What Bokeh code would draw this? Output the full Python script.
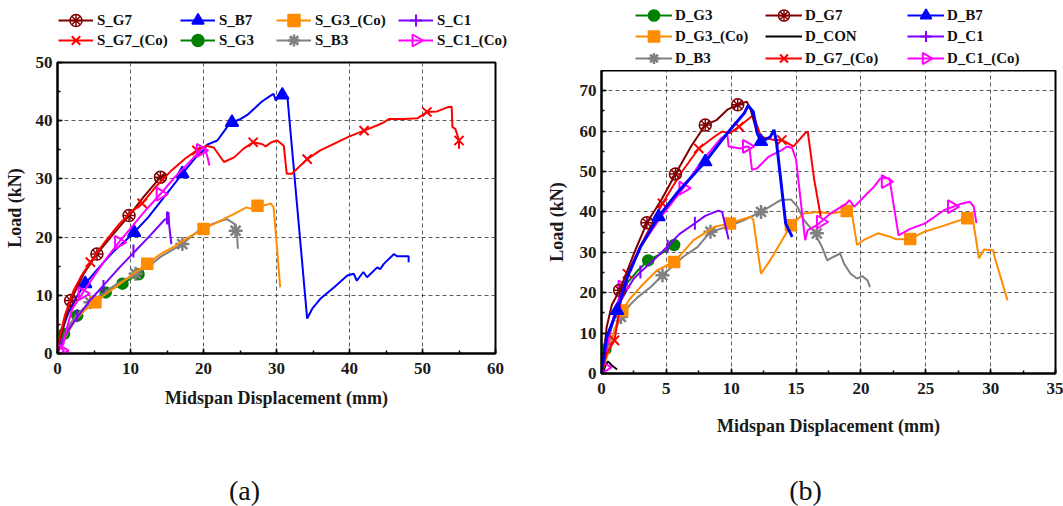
import math
from bokeh.plotting import figure
from bokeh.layouts import row, column
from bokeh.models import Range1d, SingleIntervalTicker, Legend, LegendItem, Label
from bokeh.embed import file_html
from bokeh.resources import INLINE

# ---------------- Panel (a) data : (displacement mm, load kN) ----------------
a_G7 = [(0, 0), (0.2, 1.7), (0.9, 5.1), (1.8, 9.1), (3.6, 13.7), (5.4, 17.1), (7.7, 20.6),
        (9.8, 23.7), (11.8, 26.9), (14.1, 30.3), (15.0, 30.8)]
a_G7_m = [(1.8, 9.1), (5.4, 17.1), (9.8, 23.7), (14.1, 30.3)]

a_G7co = [(0, 0), (0.3, 2.8), (1.0, 6.5), (2.2, 10.8), (3.3, 13.4), (4.5, 15.7), (6.5, 19.2),
          (8.5, 22.3), (10.0, 24.2), (11.6, 25.8), (13.5, 28.7), (15.5, 31.3), (17.5, 33.5),
          (19.1, 34.9), (19.6, 35.2), (20.4, 35.7), (21.4, 35.4), (22.8, 32.9), (24.2, 33.7),
          (25.5, 35.2), (26.8, 36.3), (28.0, 36.0), (28.5, 35.6), (29.3, 36.3), (30.1, 36.6),
          (31.0, 35.7), (31.4, 30.9), (32.1, 30.9), (34.2, 33.4), (36.0, 34.9), (38.0, 36.1),
          (40.0, 37.3), (42.0, 38.3), (44.0, 39.3), (44.7, 39.7), (45.4, 40.3), (47.5, 40.3),
          (49.3, 40.4), (50.6, 41.5), (52.0, 41.6), (53.4, 42.3), (54.0, 42.4), (54.1, 38.9),
          (54.5, 38.6), (55.0, 36.6), (55.0, 35.2)]
a_G7co_m = [(4.5, 15.7), (11.6, 25.8), (19.1, 34.9), (26.8, 36.3), (34.2, 33.4), (42.0, 38.3),
            (50.6, 41.5), (55.0, 36.6)]

a_B7 = [(0, 0), (0.5, 3.5), (1.5, 7.0), (2.5, 9.5), (3.8, 12.0), (5.5, 14.5), (7.5, 17.3),
        (10.5, 20.8), (12.5, 23.5), (15.0, 27.5), (17.1, 30.9), (19.0, 33.8), (20.0, 34.9),
        (20.5, 35.9), (21.9, 36.6), (23.0, 38.5), (23.7, 39.7), (24.5, 40.0), (25.1, 40.3),
        (26.0, 41.0), (26.9, 42.0), (28.0, 43.3), (29.2, 44.3), (29.6, 44.6), (29.9, 43.5),
        (30.4, 44.2), (30.8, 44.6), (31.5, 44.0), (34.2, 6.0), (34.9, 7.7), (36.0, 9.4),
        (37.9, 11.4), (39.7, 13.4), (40.6, 13.7), (41.0, 12.5), (41.9, 14.0), (42.4, 13.1),
        (43.8, 14.8), (44.2, 14.5), (44.7, 15.4), (46.1, 17.1), (46.5, 16.7), (48.1, 16.7),
        (48.1, 15.7)]
a_B7_m = [(3.8, 12.0), (10.5, 20.8), (17.1, 30.9), (23.9, 39.7), (30.8, 44.4)]

a_G3co = [(0, 0), (0.5, 1.5), (1.3, 3.4), (2.5, 5.8), (3.8, 7.5), (5.2, 8.8), (6.8, 10.4),
          (8.6, 12.0), (10.5, 13.8), (12.3, 15.4), (14.0, 17.0), (15.9, 18.3), (18.0, 20.0),
          (20.0, 21.4), (22.0, 22.6), (24.2, 24.0), (25.9, 25.1), (26.4, 24.9), (27.4, 25.4),
          (28.5, 25.5), (29.2, 25.8), (29.6, 25.1), (30.1, 17.7), (30.5, 11.4)]
a_G3co_m = [(5.2, 8.8), (12.3, 15.4), (20.0, 21.4), (27.4, 25.4)]

a_C1 = [(0, 0), (0.8, 2.5), (1.8, 4.6), (2.7, 6.2), (4.5, 9.2), (6.3, 11.7), (8.5, 14.8),
        (10.5, 17.4), (12.7, 20.3), (14.6, 22.9), (15.0, 23.2), (15.2, 24.3), (15.3, 22.0),
        (15.6, 18.8)]
a_C1_m = [(2.7, 6.5), (6.3, 11.5), (10.4, 17.6), (15.0, 23.3)]

a_G3 = [(0, 0), (0.4, 1.8), (0.9, 3.4), (1.8, 5.2), (2.7, 6.5), (4.5, 8.8), (6.6, 10.5),
        (8.9, 12.0), (10.0, 12.8), (11.1, 13.6), (11.8, 14.3)]
a_G3_m = [(0.9, 3.4), (2.7, 6.5), (6.6, 10.5), (8.9, 12.0), (11.1, 13.6)]

a_B3 = [(0, 0), (0.5, 1.8), (1.2, 3.8), (2.5, 6.5), (4.5, 8.8), (6.2, 10.3), (8.2, 12.0),
        (10.7, 13.7), (12.5, 15.0), (14.1, 16.6), (17.1, 18.8), (19.6, 21.4), (21.5, 22.4),
        (23.2, 23.1), (24.2, 22.3), (24.6, 20.8), (24.7, 18.0)]
a_B3_m = [(4.5, 8.8), (10.7, 13.7), (17.1, 18.8), (24.4, 21.1)]

a_C1co = [(0.6, 0.1), (0.9, 0.5), (0.4, 1.0), (0.8, 1.6), (1.2, 4.0), (2.0, 7.6), (3.4, 10.3),
          (5.0, 13.3), (6.5, 16.0), (8.4, 19.1), (10.0, 21.5), (12.0, 24.5), (14.1, 27.4),
          (16.0, 30.2), (18.0, 32.8), (19.6, 34.9), (19.9, 35.5), (20.3, 34.8), (20.6, 33.5),
          (20.8, 32.3)]
a_C1co_m = [(0.5, 0.5), (3.4, 10.3), (8.4, 19.1), (14.1, 27.4), (19.6, 34.9)]

# ---------------- Panel (b) data ----------------
b_G3 = [(0, 0), (0.2, 4.0), (0.5, 8.0), (0.9, 13.0), (1.4, 18.0), (2.0, 22.5), (2.8, 25.5),
        (3.6, 28.0), (4.5, 29.5), (5.0, 30.5), (5.6, 31.8)]
b_G3_m = [(0.3, 6.0), (3.6, 28.0), (5.6, 31.8)]

b_G7 = [(0, 0), (0.4, 11.5), (0.8, 17.0), (1.4, 20.6), (2.0, 25.5), (2.5, 29.7), (3.5, 37.3),
        (4.6, 42.9), (5.7, 49.4), (6.9, 56.2), (8.0, 61.5), (8.9, 62.8), (9.7, 65.3),
        (10.5, 66.5), (11.2, 67.3), (11.5, 65.3), (12.0, 59.5), (12.5, 57.0)]
b_G7_m = [(1.4, 20.6), (3.5, 37.3), (5.7, 49.4), (8.0, 61.5), (10.5, 66.5)]

b_B7 = [(0, 0), (0.4, 9.0), (1.2, 15.6), (2.0, 23.9), (3.0, 31.3), (4.4, 38.8), (5.8, 44.6),
        (8.0, 52.4), (9.7, 59.5), (11.0, 64.4), (11.3, 66.3), (11.7, 64.8), (12.0, 59.5),
        (12.3, 57.4), (13.0, 58.5), (13.3, 60.3), (13.5, 57.0), (14.2, 37.1), (14.7, 33.8)]
b_B7_m = [(1.2, 15.6), (4.4, 38.8), (8.0, 52.4), (12.3, 57.4)]

b_G3co = [(0, 0), (0.6, 6.0), (1.0, 11.0), (1.6, 15.6), (2.2, 18.5), (3.0, 21.4), (4.3, 25.6),
          (5.6, 27.6), (7.1, 33.0), (8.7, 36.3), (9.9, 37.1), (10.7, 38.0), (11.5, 38.8),
          (11.7, 38.0), (12.3, 24.7), (13.0, 28.0), (14.6, 36.7), (15.6, 39.6), (16.6, 40.0),
          (17.7, 39.6), (18.9, 40.2), (19.3, 39.7), (19.7, 31.8), (20.2, 33.0), (21.3, 34.7),
          (22.3, 33.8), (22.7, 33.2), (23.8, 33.3), (24.9, 35.1), (26.1, 36.3), (27.7, 38.0),
          (28.6, 38.8), (29.1, 28.5), (29.5, 30.7), (30.2, 30.5), (30.3, 28.9), (31.3, 18.1)]
b_G3co_m = [(1.6, 15.6), (5.6, 27.6), (9.9, 37.1), (14.6, 36.7), (18.9, 40.2), (23.8, 33.3),
            (28.2, 38.4)]

b_CON = [(0.1, 0), (0.3, 2.0), (0.5, 3.0), (0.8, 2.0), (1.2, 1.0)]

b_C1 = [(0, 0), (0.3, 5.0), (0.6, 10.0), (1.0, 14.0), (1.5, 18.0), (2.0, 21.0), (2.5, 23.5),
        (3.0, 25.1), (4.0, 28.0), (5.1, 31.5), (6.0, 34.5), (7.2, 37.2), (8.0, 39.0),
        (9.0, 40.3), (9.3, 40.0), (9.8, 33.2)]
b_C1_m = [(3.0, 25.1), (5.1, 31.5), (7.2, 37.2)]

b_B3 = [(0, 0), (0.3, 4.0), (0.7, 8.2), (1.5, 14.0), (2.2, 17.0), (2.8, 18.9), (3.8, 21.4),
        (4.7, 24.3), (6.3, 28.9), (7.4, 31.3), (8.4, 35.1), (9.7, 36.3), (11.0, 38.0),
        (12.3, 40.0), (13.8, 42.9), (14.6, 43.1), (15.1, 41.3), (15.6, 38.0), (16.4, 35.0),
        (17.0, 31.3), (17.4, 28.0), (17.9, 28.9), (18.4, 29.7), (18.7, 27.2), (19.2, 24.7),
        (19.7, 23.5), (20.1, 24.1), (20.5, 23.1), (20.7, 21.4)]
b_B3_m = [(1.5, 14.0), (4.7, 24.3), (8.4, 35.1), (12.3, 40.0), (16.6, 34.7)]

b_G7co = [(0, 0), (0.4, 4.9), (1.0, 8.2), (1.5, 18.1), (2.0, 24.7), (3.0, 31.5), (4.7, 42.1),
          (6.1, 49.5), (7.5, 55.7), (8.7, 58.6), (9.3, 59.9), (9.9, 59.5), (10.6, 61.1),
          (11.7, 64.0), (12.3, 58.6), (13.3, 57.8), (13.9, 57.8), (14.8, 56.2), (15.7, 59.5),
          (15.9, 59.9), (16.4, 47.9), (16.5, 46.2), (16.9, 38.8)]
b_G7co_m = [(1.0, 8.2), (2.0, 24.7), (4.7, 42.1), (7.5, 55.7), (10.6, 61.1), (13.9, 57.8)]

b_C1co = [(0, 0), (0.5, 8.0), (1.0, 15.0), (1.6, 21.4), (3.0, 31.3), (4.6, 38.8), (6.3, 45.9),
          (7.6, 52.0), (9.2, 58.2), (9.7, 59.1), (9.8, 56.2), (10.7, 55.7), (11.2, 56.2),
          (11.4, 56.0), (11.6, 50.4), (12.0, 50.8), (12.9, 53.7), (13.9, 55.3), (14.3, 56.2),
          (14.7, 55.8), (15.0, 52.9), (15.7, 33.0), (15.9, 35.5), (16.6, 36.7), (17.7, 39.7),
          (18.9, 42.1), (19.1, 42.9), (19.5, 41.3), (20.5, 44.6), (21.0, 46.2), (21.5, 48.3),
          (22.2, 48.3), (22.3, 46.2), (22.9, 34.2), (23.8, 35.8), (24.9, 37.1), (25.6, 38.6),
          (26.4, 40.4), (27.8, 42.1), (28.4, 42.5), (28.7, 41.3), (28.9, 37.2)]
b_C1co_m = [(0.2, 1.5), (1.6, 21.4), (6.3, 45.9), (11.2, 56.2), (16.9, 37.5), (21.9, 47.5),
            (27.0, 41.3)]

a_labels = ["S_G7", "S_B7", "S_G3_(Co)", "S_C1", "S_G7_(Co)", "S_G3", "S_B3", "S_C1_(Co)"]
b_labels = ["D_G3", "D_G7", "D_B7", "D_G3_(Co)", "D_CON", "D_C1", "D_B3", "D_G7_(Co)", "D_C1_(Co)"]

# ---------------- styles ----------------
MAROON, RED, BLUE, ORANGE = "#800000", "#FF0000", "#0000FF", "#FF8C00"
PURPLE, GREEN, GRAY, MAGENTA = "#8000FF", "#008000", "#808080", "#FF00FF"
FONT = "Liberation Serif"
NAN = float("nan")


def mk_g7(c):
    return [dict(marker="circle", size=12, line_color=c, fill_color=None, line_width=1.5),
            dict(marker="asterisk", size=12, line_color=c, line_width=1.5)]


def mk(marker, c, size=12, fill=True, angle=0.0, lw=1.5):
    return [dict(marker=marker, size=size, line_color=c, fill_color=c if fill else None,
                 line_width=lw, angle=angle)]


RIGHT_TRI = mk("triangle", MAGENTA, 13, fill=False, angle=-math.pi / 2, lw=2)

STY = {
    "G7": (MAROON, mk_g7(MAROON), 2),
    "G7co": (RED, mk("x", RED, 13, lw=2), 2),
    "B7": (BLUE, mk("triangle", BLUE, 13), 2),
    "G3co": (ORANGE, mk("square", ORANGE, 11), 2),
    "C1": (PURPLE, mk("dash", PURPLE, 13, angle=math.pi / 2, lw=2), 2),
    "G3": (GREEN, mk("circle", GREEN, 11), 2),
    "B3": (GRAY, mk("asterisk", GRAY, 14, lw=2.5), 2),
    "C1co": (MAGENTA, RIGHT_TRI, 2),
    "CON": ("black", [], 2),
}
# legend glyphs are drawn unrotated by Bokeh: use equivalent unrotated symbols there
LEG_MK = {"C1": mk("cross", PURPLE, 13, lw=2), "C1co": []}


def xy(pts):
    return [q[0] for q in pts], [q[1] for q in pts]


def series(p, pts, mpts, key, lw=None, markers=None):
    color, mks, dlw = STY[key]
    if markers is None:
        markers = mks
    x, y = xy(pts)
    rends = [p.line(x, y, line_color=color, line_width=lw or dlw)]
    mx, my = xy(mpts)
    for m in markers:
        rends.append(p.scatter(mx, my, **m))
    return rends


def make_fig(w, h, xr, yr, xint, yint, bl, br, bt, bb, ylab_stand, xlab_stand):
    p = figure(width=w, height=h, x_range=Range1d(*xr), y_range=Range1d(*yr),
               output_backend="svg", toolbar_location=None, frame_align=False,
               min_border_left=bl, min_border_right=br, min_border_top=bt, min_border_bottom=bb)
    p.xaxis.ticker = SingleIntervalTicker(interval=xint, num_minor_ticks=2)
    p.yaxis.ticker = SingleIntervalTicker(interval=yint, num_minor_ticks=2)
    for ax in (p.xaxis, p.yaxis):
        ax.major_tick_in = 5
        ax.major_tick_out = 0
        ax.minor_tick_in = 3
        ax.minor_tick_out = 0
        ax.axis_line_width = 2
        ax.axis_line_color = "black"
        ax.major_tick_line_width = 1.5
        ax.minor_tick_line_width = 1.5
        ax.major_label_text_font = FONT
        ax.major_label_text_font_style = "bold"
        ax.major_label_text_font_size = "17px"
        ax.major_label_text_color = "#1a1a1a"
        ax.axis_label_text_font = FONT
        ax.axis_label_text_font_style = "bold"
        ax.axis_label_text_font_size = "18px"
        ax.axis_label_text_color = "#1a1a1a"
    p.xaxis.major_label_standoff = 9
    p.yaxis.major_label_standoff = 5
    p.xaxis.axis_label = "Midspan Displacement (mm)"
    p.yaxis.axis_label = "Load (kN)"
    p.xaxis.axis_label_standoff = xlab_stand
    p.yaxis.axis_label_standoff = ylab_stand
    p.grid.grid_line_color = "#333333"
    p.grid.grid_line_dash = "4 3"
    p.grid.grid_line_width = 1
    p.grid.grid_line_alpha = 0.8
    p.outline_line_color = "black"
    p.outline_line_width = 2
    p.outline_line_alpha = 1
    p.background_fill_color = "white"
    p.border_fill_color = "white"
    return p


def blank_fig(w, h):
    # frame covers the whole figure; data units equal screen pixels
    f = figure(width=w, height=h, x_range=Range1d(0, w), y_range=Range1d(0, h),
               output_backend="svg", toolbar_location=None, frame_align=False,
               x_axis_location=None, y_axis_location=None,
               min_border_left=0, min_border_right=0, min_border_top=0, min_border_bottom=0)
    f.outline_line_color = None
    f.grid.visible = False
    f.background_fill_color = "white"
    f.border_fill_color = "white"
    return f


def add_leg(lf, label, key, vx, vy, gw, gh, stand):
    # legend-only renderers: a single NaN point, nothing is drawn in the plot area
    rends = series(lf, [(NAN, NAN)], [(NAN, NAN)], key, markers=LEG_MK.get(key))
    lg = Legend(items=[LegendItem(label=label, renderers=rends)], location=(vx, vy),
                orientation="horizontal", glyph_width=gw, glyph_height=gh, label_standoff=stand,
                padding=0, margin=0, spacing=0, border_line_color=None,
                background_fill_alpha=0, label_text_font=FONT, label_text_font_style="bold",
                label_text_font_size="15px", label_text_color="#111111")
    lf.add_layout(lg)
    if key == "C1co":
        # right-pointing open triangle at the centre of this legend glyph box
        m = dict(RIGHT_TRI[0])
        m["size"] = 0.4 * min(gw, gh)
        lf.scatter([vx + gw / 2], [vy + gh / 2], **m)


def caption_fig(w, h, text, x, y):
    f = blank_fig(w, h)
    f.add_layout(Label(x=x, y=y, x_units="screen", y_units="screen", text=text,
                       text_font=FONT, text_font_size="28px", text_align="center",
                       text_baseline="middle", text_color="#111111"))
    return f


# ---------------- Panel (a) ----------------
pa = make_fig(530, 368, (0, 60), (0, 50), 10, 10, 57, 35, 10, 67, 8, 11)
series(pa, a_G3, a_G3_m, "G3")
series(pa, a_B3, a_B3_m, "B3")
series(pa, a_G3co, a_G3co_m, "G3co")
series(pa, a_C1, a_C1_m, "C1")
series(pa, a_B7, a_B7_m, "B7")
series(pa, a_G7, a_G7_m, "G7")
series(pa, a_G7co, a_G7co_m, "G7co")
series(pa, a_C1co, a_C1co_m, "C1co")

la = blank_fig(530, 52)
a_keys = ["G7", "B7", "G3co", "C1", "G7co", "G3", "B3", "C1co"]
a_cols = [58, 180, 276, 398]
a_rows = [17, -3]
for i, lab in enumerate(a_labels):
    add_leg(la, lab, a_keys[i], a_cols[i % 4], a_rows[i // 4], 35, 30, 4)

ca = caption_fig(530, 86, "(a)", 244, 16)

# ---------------- Panel (b) ----------------
pb = make_fig(533, 375, (0, 35), (0, 75), 5, 10, 71, 8, 0, 72, 10, 19)
series(pb, b_CON, [], "CON")
series(pb, b_G3, b_G3_m, "G3")
series(pb, b_B3, b_B3_m, "B3")
series(pb, b_G3co, b_G3co_m, "G3co")
series(pb, b_C1, b_C1_m, "C1")
series(pb, b_C1co, b_C1co_m, "C1co")
series(pb, b_G7co, b_G7co_m, "G7co")
series(pb, b_G7, b_G7_m, "G7")
series(pb, b_B7, b_B7_m, "B7", lw=3)

lb = blank_fig(533, 70)
b_keys = ["G3", "G7", "B7", "G3co", "CON", "C1", "B3", "G7co", "C1co"]
b_cols = [105, 235, 377]
b_rows = [41, 20, -2]
for i, lab in enumerate(b_labels):
    add_leg(lb, lab, b_keys[i], b_cols[i % 3], b_rows[i // 3], 37, 28, 3)

cb = caption_fig(533, 61, "(b)", 275, 16)

layout = row(column(la, pa, ca), column(lb, pb, cb))
open("out.html", "w").write(file_html(layout, INLINE))
